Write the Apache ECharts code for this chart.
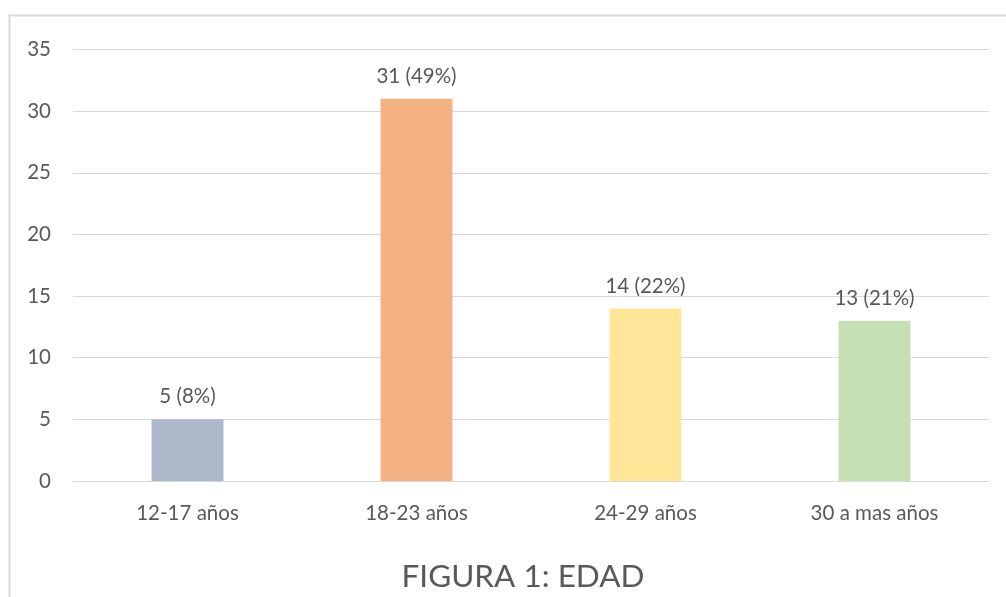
<!DOCTYPE html>
<html>
<head>
<meta charset="utf-8">
<script src="https://cdn.jsdelivr.net/npm/echarts@6/dist/echarts.min.js"></script>
<style>
  html, body { margin: 0; padding: 0; background: #fff; }
  #chart { width: 1006px; height: 597px; }
</style>
</head>
<body>
<div id="chart"></div>
<script>
// categorias de edad
const categories = ['12-17 años', '18-23 años', '24-29 años', '30 a mas años'];
// cantidad de personas
const values = [5, 31, 14, 13];
// porcentaje mostrado en la etiqueta
const percents = [8, 49, 22, 21];
// colores de cada barra
const barColors = ['#ADB9CA', '#F4B183', '#FFE699', '#C5E0B4'];

const textColor = '#595959';
const fontFamily = 'Lato, "Open Sans", sans-serif';
const labelSize = 20.5;

const myChart = echarts.init(document.getElementById('chart'));

myChart.setOption({
    animation: false,
    textStyle: { fontFamily: fontFamily, color: textColor },
    title: {
        text: 'FIGURA 1: EDAD',
        left: 518,
        textAlign: 'center',
        top: 556,
        textStyle: { fontFamily: fontFamily, fontSize: 31.5, fontWeight: 'normal', color: textColor }
    },
    // borde del area del grafico
    graphic: [{
        type: 'rect',
        shape: { x: 9.5, y: 15.5, width: 1100, height: 700 },
        style: { fill: 'none', stroke: '#D9D9D9', lineWidth: 2 },
        silent: true
    }],
    grid: { left: 73, right: 17, top: 49.5, bottom: 116 },
    xAxis: {
        type: 'category',
        data: categories,
        axisLine: { show: true, lineStyle: { color: '#D9D9D9', width: 1 } },
        axisTick: { show: false },
        axisLabel: { color: textColor, fontSize: labelSize, margin: 22, fontFamily: fontFamily }
    },
    yAxis: {
        type: 'value',
        min: 0,
        max: 35,
        interval: 5,
        axisLine: { show: false },
        axisTick: { show: false },
        splitLine: { lineStyle: { color: '#D9D9D9', width: 1 } },
        axisLabel: { color: textColor, fontSize: labelSize, margin: 22, fontFamily: fontFamily }
    },
    series: [{
        type: 'bar',
        barWidth: '31.4%',
        data: values.map((v, i) => ({ value: v, itemStyle: { color: barColors[i] } })),
        label: {
            show: true,
            position: 'top',
            distance: 12,
            color: textColor,
            fontSize: labelSize,
            fontFamily: fontFamily,
            formatter: (p) => `${values[p.dataIndex]} (${percents[p.dataIndex]}%)`
        }
    }]
});
</script>
</body>
</html>
